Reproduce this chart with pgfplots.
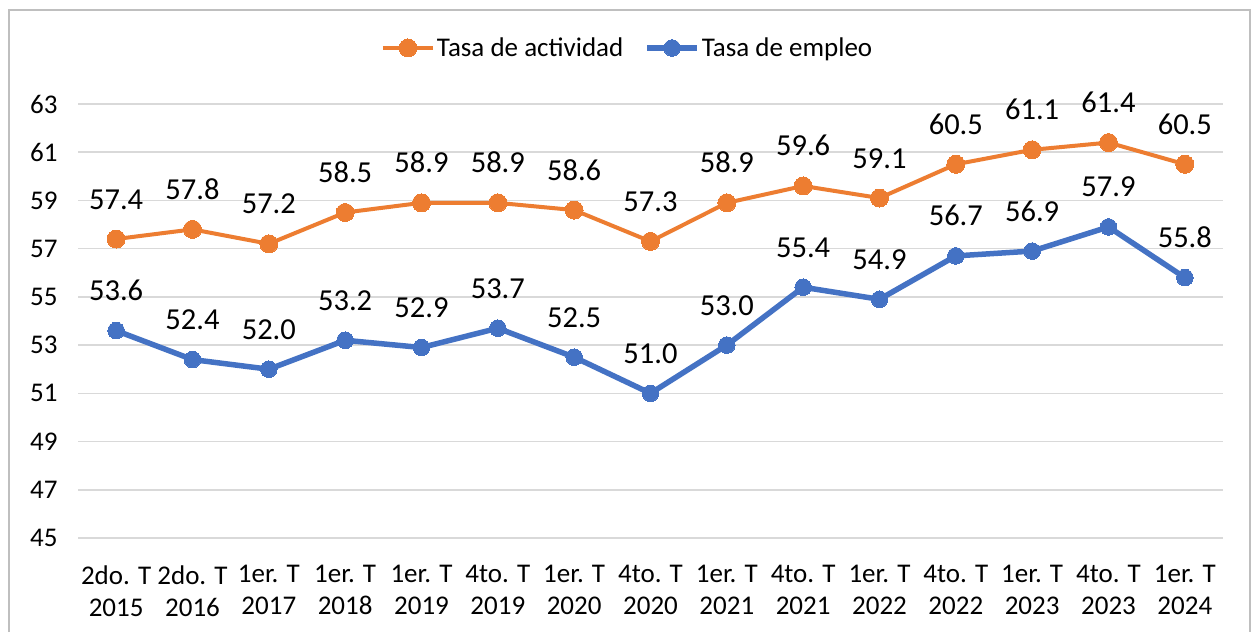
\documentclass[border=0pt]{standalone}
\usepackage{fontspec}
\setmainfont{Carlito}
\usepackage{pgfplots}
\pgfplotsset{compat=1.18}
\definecolor{actcol}{HTML}{ED7D31}
\definecolor{empcol}{HTML}{4472C4}
\definecolor{gridcol}{HTML}{D9D9D9}
\definecolor{framecol}{HTML}{BFBFBF}

\pgfplotstableread{
x act emp
0 57.4 53.6
1 57.8 52.4
2 57.2 52.0
3 58.5 53.2
4 58.9 52.9
5 58.9 53.7
6 58.6 52.5
7 57.3 51.0
8 58.9 53.0
9 59.6 55.4
10 59.1 54.9
11 60.5 56.7
12 61.1 56.9
13 61.4 57.9
14 60.5 55.8
}\datatable

\begin{document}
\begin{tikzpicture}
\useasboundingbox (0,0) rectangle (1257pt,632pt);
\fill[white] (0,0) rectangle (1257pt,632pt);
\draw[framecol,line width=1.5pt] (9pt,0) -- (9pt,622pt) -- (1250pt,622pt) -- (1250pt,0);
\begin{axis}[
  at={(78pt,94pt)}, anchor=south west,
  scale only axis, width=1145pt, height=434pt,
  xmin=-0.5, xmax=14.5, ymin=45, ymax=63,
  ytick={45,47,...,63},
  xtick={0,...,14},
  xticklabels={{2do. T\\2015},{2do. T\\2016},{1er. T\\2017},{1er. T\\2018},{1er. T\\2019},{4to. T\\2019},{1er. T\\2020},{4to. T\\2020},{1er. T\\2021},{4to. T\\2021},{1er. T\\2022},{4to. T\\2022},{1er. T\\2023},{4to. T\\2023},{1er. T\\2024}},
  xticklabel style={align=center, font=\fontsize{27}{32}\selectfont},
  yticklabel style={font=\fontsize{27}{32}\selectfont},
  xticklabel shift=24pt, yticklabel shift=17pt,
  /pgf/number format/assume math mode=true,
  /pgf/number format/.cd, fixed, fixed zerofill, precision=1, /pgfplots/.cd,
  yticklabel={\pgfmathprintnumber[fixed,precision=0,fixed zerofill=false]{\tick}},
  axis line style={draw=none},
  major tick style={draw=none},
  ymajorgrids, grid style={gridcol, line width=1.5pt},
  nodes near coords,
  nodes near coords style={anchor=base, yshift=30pt, text=black, font=\fontsize{30.5}{36}\selectfont},
  legend columns=2,
  legend style={at={(0.48,1)}, anchor=center, yshift=56pt, draw=none, fill=none,
    font=\fontsize{27}{32}\selectfont,
    /tikz/every even column/.append style={column sep=19pt}},
  legend image code/.code={
    \draw[#1,mark=none] (0pt,0pt) -- (50pt,0pt);
    \draw[#1,only marks] plot coordinates {(25pt,0pt)};
  },
  clip=false,
]
\addplot[actcol, line width=4pt, mark=*, mark size=9pt, mark options={solid, fill=actcol, draw=actcol, line width=0pt}] table[x=x,y=act] {\datatable};
\addlegendentry{Tasa de actividad}
\addplot[empcol, line width=5.5pt, mark=*, mark size=8.3pt, mark options={solid, fill=empcol, draw=empcol, line width=0pt}] table[x=x,y=emp] {\datatable};
\addlegendentry{Tasa de empleo}
\end{axis}
\end{tikzpicture}
\end{document}
